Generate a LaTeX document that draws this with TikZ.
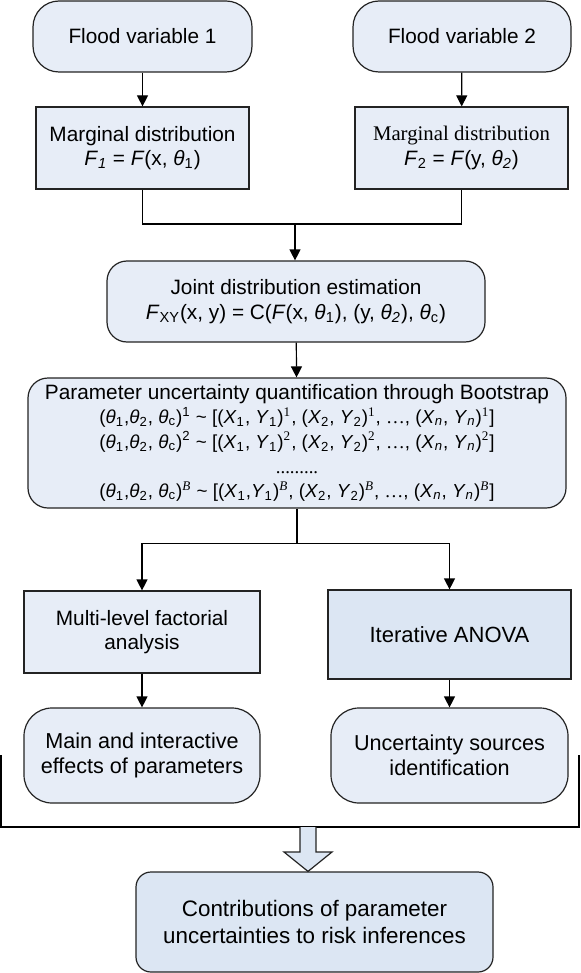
\documentclass[tikz,border=0pt]{standalone}
\usepackage{fontspec}
\setmainfont{Liberation Sans}
\newfontfamily\tnr{Liberation Serif}
\usetikzlibrary{
    positioning,
    arrows.meta,
    calc
}
\definecolor{boxfill}{RGB}{231,237,247}
\definecolor{boxfilldk}{RGB}{220,230,243}
\definecolor{boxline}{RGB}{35,35,35}
\newcommand{\tsub}[1]{\textsubscript{#1}}
\newcommand{\tsup}[1]{\textsuperscript{#1}}
\newcommand{\thv}{\textit{θ}}
\newcommand{\bsz}{\fontsize{9.4}{12.6}\selectfont}
\tikzset{
    >={Triangle[length=5.5pt,width=5.5pt]},
    flowbox/.style={
        draw=boxline,
        fill=boxfill,
        line width=0.6pt,
        align=center,
        inner sep=2pt,
        font=\fontsize{10.4}{12.3}\selectfont
    },
    termbox/.style={
        flowbox,
        rounded corners=13pt
    },
    procbox/.style={
        flowbox
    },
    blockarrow/.style={
        draw=boxline,
        fill=boxfilldk,
        line width=0.6pt
    }
}

\begin{document}
\begin{tikzpicture}[
    x=0.5pt,
    y=-0.5pt,
    line width=0.6pt
]
    \useasboundingbox (0,0) rectangle (581,973);

    % Inputs
    \node[termbox, minimum width=109.5pt, minimum height=35.5pt]
        (fv1) at (142.5,36.5) {Flood variable 1};
    \node[termbox, minimum width=109pt, minimum height=35.5pt]
        (fv2) at (462,36.5)   {Flood variable 2};

    % Marginals
    \node[procbox, minimum width=106.5pt, minimum height=41pt]
        (mg1) at (142.5,148)  {Marginal distribution\\
        \textit{F}\tsub{\textit{1}} = \textit{F}(x, \thv\tsub{1})};
    \node[procbox, minimum width=106.5pt, minimum height=41pt]
        (mg2) at (461.5,148)  {{\tnr Marginal distribution}\\
        \textit{F}\tsub{2} = \textit{F}(y, \thv\tsub{\textit{2}})};

    % Joint distribution
    \node[termbox, rounded corners=10pt, minimum width=189pt, minimum height=40.5pt]
        (jd) at (296,301.5)   {Joint distribution estimation\\
        \textit{F}\tsub{XY}(x, y) = C(\textit{F}(x, \thv\tsub{1}), (y, \thv\tsub{\textit{2}}), \thv\tsub{c})};

    % Bootstrap
    \node[termbox, rounded corners=10pt, minimum width=269pt, minimum height=65pt]
        (pu) at (297,443)     {Parameter uncertainty quantification through Bootstrap\\
        \bsz (\thv\tsub{1},\thv\tsub{2}, \thv\tsub{c})\tsup{1} \textasciitilde{}
        [(\textit{X}\tsub{1}, \textit{Y}\tsub{1})\tsup{\tnr 1},
        (\textit{X}\tsub{2}, \textit{Y}\tsub{2})\tsup{\tnr 1}, {\tnr …},
        (\textit{X}\tsub{\textit{n}}, \textit{Y}\tsub{\textit{n}})\tsup{\tnr 1}]\\
        \bsz (\thv\tsub{1},\thv\tsub{2}, \thv\tsub{c})\tsup{2} \textasciitilde{}
        [(\textit{X}\tsub{1}, \textit{Y}\tsub{1})\tsup{\tnr 2},
        (\textit{X}\tsub{2}, \textit{Y}\tsub{2})\tsup{\tnr 2}, {\tnr …},
        (\textit{X}\tsub{\textit{n}}, \textit{Y}\tsub{\textit{n}})\tsup{\tnr 2}]\\
        \bsz {\tnr .........}\\
        \bsz (\thv\tsub{1},\thv\tsub{2}, \thv\tsub{c})\tsup{\tnr\itshape B} \textasciitilde{}
        [(\textit{X}\tsub{1},\textit{Y}\tsub{1})\tsup{\tnr\itshape B},
        (\textit{X}\tsub{2}, \textit{Y}\tsub{2})\tsup{\tnr\itshape B}, {\tnr …},
        (\textit{X}\tsub{\textit{n}}, \textit{Y}\tsub{\textit{n}})\tsup{\tnr\itshape B}]};

    % Analyses
    \node[procbox, minimum width=118pt, minimum height=41pt]
        (mf) at (142,632)     {Multi-level factorial\\ analysis};
    \node[procbox, fill=boxfilldk, minimum width=121.5pt, minimum height=44.5pt,
        font=\fontsize{11}{13}\selectfont]
        (ia) at (449.5,634.5) {Iterative ANOVA};

    % Results
    \node[termbox, rounded corners=14pt, minimum width=118pt, minimum height=47.5pt,
        font=\fontsize{10.8}{12.6}\selectfont]
        (me) at (142,755.5)   {Main and interactive\\ effects of parameters};
    \node[termbox, rounded corners=14pt, minimum width=118.5pt, minimum height=47.5pt,
        font=\fontsize{10.8}{12.6}\selectfont]
        (us) at (449.5,755.5) {Uncertainty sources\\ identification};

    \node[termbox, fill=boxfilldk, rounded corners=7.5pt, minimum width=178.5pt, minimum height=50pt,
        font=\fontsize{11.2}{13.5}\selectfont]
        (ct) at (314.5,922)   {Contributions of parameter\\ uncertainties to risk inferences};

    % Connections
    \coordinate (mrg) at (295,224);
    \draw[->] (fv1) -- (mg1);
    \draw[->] (fv2) -- (mg2);
    \draw (mg1.south) |- (mrg) -| (mg2.south);
    \draw[->] (mrg) -- (mrg |- jd.north);
    \draw[->] (jd) -- (pu);

    \path (pu.south) ++(0,35) coordinate (spl);
    \draw (pu.south) -- (spl);
    \draw[->] (spl) -| (mf);
    \draw[->] (spl) -| (ia);
    \draw[->] (mf) -- (me);
    \draw[->] (ia) -- (us);

    % Bracket and block arrow
    \coordinate (bl) at (1,755);
    \coordinate (br) at (579,755);
    \coordinate (bm) at (308,827);
    \coordinate (tip) at (bm |- ct.north);
    \draw (bl) |- (bm) -| (br);
    \draw[blockarrow]
        ($(bm)+(-8,0)$) -- ($(bm)+(-8,25)$) -- ($(bm)+(-24,25)$)
        -- (tip) -- ($(bm)+(24,25)$) -- ($(bm)+(8,25)$) -- ($(bm)+(8,0)$);

\end{tikzpicture}
\end{document}
